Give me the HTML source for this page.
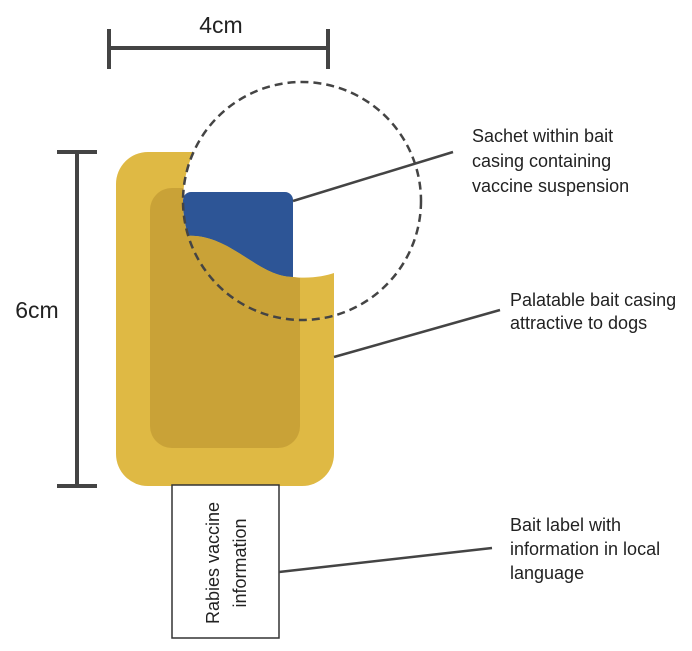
<!DOCTYPE html>
<html><head><style>body{margin:0;background:#fff}svg{display:block}text{font-family:"Liberation Sans",sans-serif;fill:#222}</style></head>
<body>
<svg width="692" height="651" viewBox="0 0 692 651">
<defs><clipPath id="c"><circle cx="302" cy="201" r="119"/></clipPath>
<mask id="m"><rect width="692" height="651" fill="#fff"/><circle cx="302" cy="201" r="119" fill="#000"/></mask></defs>
<g mask="url(#m)">
<rect x="116" y="152" width="218" height="334" rx="32" fill="#dfb944"/>
<rect x="150" y="188" width="150" height="260" rx="22" fill="#c9a237"/>
</g>
<g clip-path="url(#c)">
<rect x="183" y="192" width="110" height="100" rx="8" fill="#2d5596"/>
<path d="M150 236 L184 236 C230 232 255 276 293 277 C310 279 325 276 334 273 L334 480 L150 480 Z" fill="#dfb944"/>
<path d="M150 236 L184 236 C230 232 255 276 293 277 L300 278 L300 440 L150 440 Z" fill="#c9a237"/>
</g>
<circle cx="302" cy="201" r="119" fill="none" stroke="#444" stroke-width="2.5" stroke-dasharray="8,5"/>
<g stroke="#444" stroke-width="4" fill="none">
<line x1="109" y1="48" x2="328" y2="48"/><line x1="109" y1="29" x2="109" y2="69"/><line x1="328" y1="29" x2="328" y2="69"/>
<line x1="77" y1="152" x2="77" y2="486"/><line x1="57" y1="152" x2="97" y2="152"/><line x1="57" y1="486" x2="97" y2="486"/>
</g>
<text x="221" y="33" font-size="23" text-anchor="middle">4cm</text>
<text x="37" y="318" font-size="23" text-anchor="middle">6cm</text>
<rect x="172" y="485" width="107" height="153" fill="#fff" stroke="#333" stroke-width="1.5"/>
<text transform="translate(219,563) rotate(-90)" font-size="18" text-anchor="middle">Rabies vaccine</text>
<text transform="translate(246,563) rotate(-90)" font-size="18" text-anchor="middle">information</text>
<g stroke="#444" stroke-width="2.5">
<line x1="293" y1="201" x2="453" y2="152"/>
<line x1="334" y1="357" x2="500" y2="310"/>
<line x1="279" y1="572" x2="492" y2="548"/>
</g>
<g font-size="18">
<text x="472" y="142">Sachet within bait</text>
<text x="472" y="167">casing containing</text>
<text x="472" y="192">vaccine suspension</text>
<text x="510" y="306">Palatable bait casing</text>
<text x="510" y="329">attractive to dogs</text>
<text x="510" y="531">Bait label with</text>
<text x="510" y="555">information in local</text>
<text x="510" y="579">language</text>
</g>
</svg>
</body></html>
